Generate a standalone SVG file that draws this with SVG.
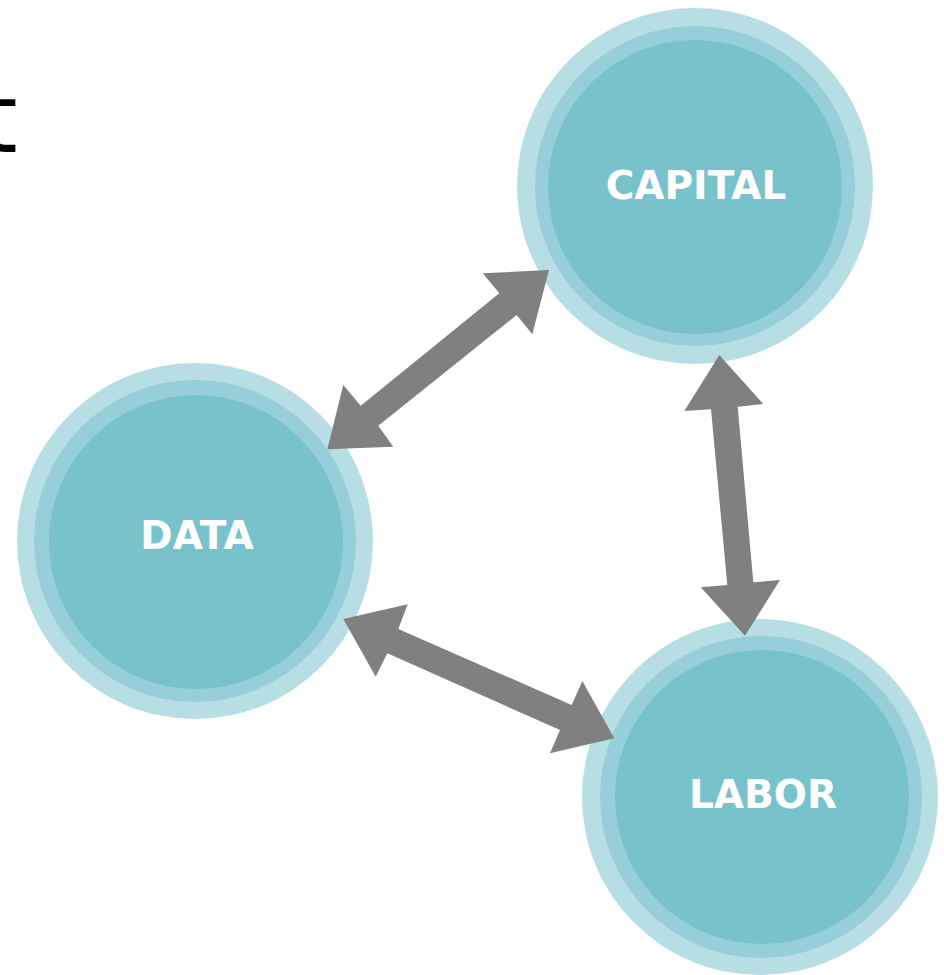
<svg xmlns="http://www.w3.org/2000/svg" width="944" height="975" viewBox="0 0 944 975">
<style>
.o{fill:#B6DEE4}.m{fill:#96CFD8}.i{fill:#78C2CC}
.lbl{font-family:"DejaVu Sans",Verdana,sans-serif;font-weight:bold;font-size:39px;fill:#FFFFFF;text-anchor:middle}
.arr{fill:#808080}
</style>
<rect width="944" height="975" fill="#FFFFFF"/>
<text x="-20" y="152" font-family="DejaVu Sans, sans-serif" font-size="96" fill="#000000">t</text>
<g id="capital">
<circle class="o" cx="695" cy="186" r="178"/>
<circle class="m" cx="695" cy="186" r="160"/>
<circle class="i" cx="695" cy="187" r="147"/>
<text class="lbl" x="696" y="199">CAPITAL</text>
</g>
<g id="data">
<circle class="o" cx="195" cy="541" r="178"/>
<circle class="m" cx="195" cy="541" r="161"/>
<circle class="i" cx="196" cy="542" r="147"/>
<text class="lbl" x="197" y="549">DATA</text>
</g>
<g id="labor">
<circle class="o" cx="760" cy="797" r="178"/>
<circle class="m" cx="761" cy="797" r="161"/>
<circle class="i" cx="762" cy="797" r="147"/>
<text class="lbl" x="763" y="808">LABOR</text>
</g>
<g id="connectors">
<polygon class="arr" points="549,270 482.7,273.3 499.3,293.3 360.7,405.7 343.3,385 327.3,449.3 393.3,446.7 378.3,425.7 516.7,315 532.3,334.3"/>
<polygon class="arr" points="719.3,355 684.3,411 711,409.3 727.3,585 700.7,587.3 745,635.7 780,580 753.3,582.3 737.7,406.7 763.3,404"/>
<polygon class="arr" points="343.3,619 375.7,676.7 387.3,653.3 560,730 550,753.3 614.3,738.3 582.3,681 571.7,705 398.3,629 407.7,604.3"/>
</g>
</svg>
